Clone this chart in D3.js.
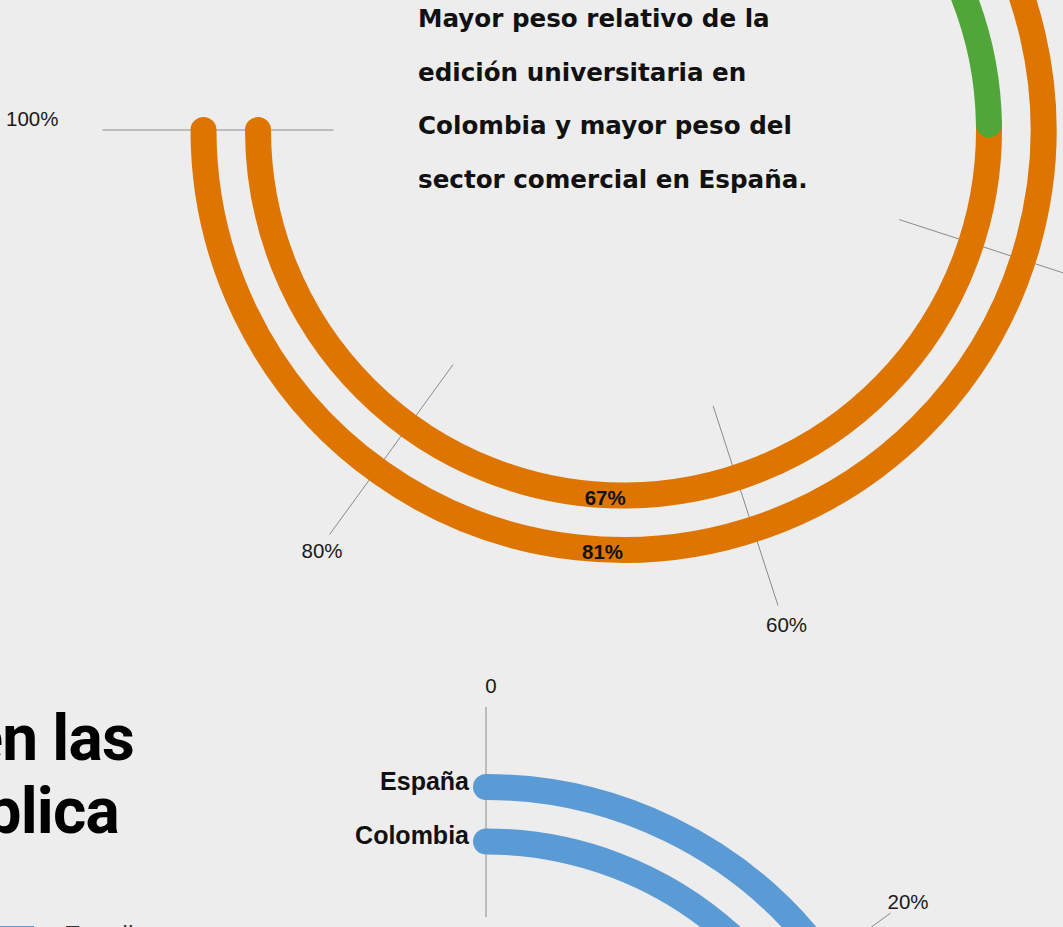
<!DOCTYPE html>
<html>
<head>
<meta charset="utf-8">
<script src="https://cdn.jsdelivr.net/npm/d3@7/dist/d3.min.js"></script>
<style>
  html, body { margin: 0; padding: 0; background: #ededed; overflow: hidden; }
  svg { display: block; }
</style>
</head>
<body>
<svg id="chart" width="1063" height="927"></svg>
<script>
// ---------------- DATA ----------------
const countries = ["Colombia", "España"];
const tickValues = [0, 20, 40, 60, 80, 100];
const tickLabels = ["0", "20%", "40%", "60%", "80%", "100%"];

// Top chart: peso de cada tipo de edición (stacked %)
const topSeries = ["Universitaria", "Comercial"];
const topColombia = [33, 67];
const topEspana = [19, 81];
const topLabelSeries = "Comercial";

// Bottom chart: first segment only visible
const bottomSeries = ["Estudios"];
const bottomColombia = [32];
const bottomEspana = [41];

const noteLines = [
  "Mayor peso relativo de la",
  "edición universitaria en",
  "Colombia y mayor peso del",
  "sector comercial en España."
];
const titleLines = ["en las", "pública"];
const legendLabels = ["Estudios"];

// ---------------- SETUP ----------------
const W = 1063, H = 927;
const svg = d3.select("#chart");
svg.append("rect").attr("width", W).attr("height", H).attr("fill", "#ededed");

const colors = {
  "Universitaria": "#50a638",
  "Comercial": "#dd7500",
  "Estudios": "#5b9bd5"
};

const angle = d3.scaleLinear().domain([0, 100]).range([0, 1.5 * Math.PI]);
const radius = d3.scalePoint().domain(countries).range([365.5, 420]);
const band = 26;
const tickR0 = 290, tickR1 = 500;

function polar(r, a) { return [r * Math.sin(a), -r * Math.cos(a)]; }

function arcPath(r, v0, v1) {
  const p = d3.path();
  const a0 = angle(v0) - Math.PI / 2, a1 = angle(v1) - Math.PI / 2;
  p.arc(0, 0, r, a0, a1, false);
  return p.toString();
}

function drawRadial(cx, cy, seriesNames, byCountry, opts) {
  const g = svg.append("g").attr("transform", `translate(${cx},${cy})`);

  // ticks
  const ticks = g.append("g");
  tickValues.forEach((v, i) => {
    const a = angle(v);
    const r1 = v === 100 ? 521 : tickR1;
    const p0 = polar(tickR0, a), p1 = polar(r1, a);
    ticks.append("line")
      .attr("x1", p0[0]).attr("y1", p0[1])
      .attr("x2", p1[0]).attr("y2", p1[1])
      .attr("stroke", "#8a8a8a").attr("stroke-width", 1);
    let lp = polar(518, a);
    let anchor = "middle", lx = lp[0] + 3, ly = lp[1] - 2 * Math.cos(a);
    if (v === 100) { anchor = "end"; lx = polar(565, a)[0]; ly = lp[1] - 12; }
    if (v === 0) { lx = lp[0] + 5; ly = lp[1] - 4; }
    ticks.append("text")
      .attr("x", lx).attr("y", ly)
      .attr("text-anchor", anchor)
      .attr("dominant-baseline", "central")
      .attr("font-family", "'Liberation Sans', Arial, sans-serif")
      .attr("font-size", 20.5)
      .attr("fill", "#1a1a1a")
      .text(tickLabels[i]);
  });

  // arcs
  countries.forEach(c => {
    const vals = byCountry[c];
    let acc = 0;
    const segs = vals.map((v, i) => { const s = { name: seriesNames[i], start: acc, end: acc + v }; acc += v; return s; });
    const r = radius(c);
    g.append("g").selectAll("path")
      .data(segs.slice().reverse())
      .join("path")
      .attr("d", d => arcPath(r, d.start, d.end))
      .attr("fill", "none")
      .attr("stroke", d => colors[d.name])
      .attr("stroke-width", band)
      .attr("stroke-linecap", "round");

    if (opts.valueLabel) {
      const seg = segs.find(s => s.name === opts.valueLabel);
      const a = Math.PI + 0.05;
      const p = polar(r, a);
      g.append("text")
        .attr("x", p[0]).attr("y", p[1] + 10)
        .attr("text-anchor", "middle")
        .attr("font-family", "'Liberation Sans', Arial, sans-serif")
        .attr("font-weight", "bold")
        .attr("font-size", 20.5)
        .attr("fill", "#111")
        .text(Math.round(seg.end - seg.start) + "%");
    }
    if (opts.countryLabels) {
      const p = polar(r, 0);
      g.append("text")
        .attr("x", p[0] - 17).attr("y", p[1] + 2.5)
        .attr("text-anchor", "end")
        .attr("font-family", "'Liberation Sans', Arial, sans-serif")
        .attr("font-weight", "bold")
        .attr("font-size", 25)
        .attr("fill", "#111")
        .text(c);
    }
  });
  return g;
}

// Top chart
drawRadial(623.5, 130, topSeries, { "Colombia": topColombia, "España": topEspana }, { valueLabel: topLabelSeries });

// Note text
const note = svg.append("text")
  .attr("font-family", "'DejaVu Sans', sans-serif")
  .attr("font-weight", "bold")
  .attr("font-size", 24.6)
  .attr("fill", "#111");
noteLines.forEach((t, i) => {
  note.append("tspan").attr("x", 418).attr("y", 27 + i * 53.5).text(t);
});

// Bottom chart
drawRadial(486, 1207, bottomSeries, { "Colombia": bottomColombia, "España": bottomEspana }, { countryLabels: true });

// Title fragment (cut at left edge)
const title = svg.append("text")
  .attr("font-family", "Roboto, 'Liberation Sans', Arial, sans-serif")
  .attr("font-weight", "bold")
  .attr("font-size", 64)
  .attr("letter-spacing", "-0.8px")
  .attr("text-anchor", "end")
  .attr("fill", "#000");
titleLines.forEach((t, i) => {
  title.append("tspan").attr("x", i === 0 ? 134 : 119).attr("y", 760 + i * 73).text(t);
});

// Legend fragment
const legend = svg.append("g");
legendLabels.forEach((l, i) => {
  legend.append("rect").attr("x", -20).attr("y", 926).attr("width", 54).attr("height", 20).attr("fill", colors["Estudios"]);
  legend.append("text").attr("x", 64).attr("y", 944)
    .attr("font-family", "'Liberation Sans', Arial, sans-serif")
    .attr("font-size", 25).attr("fill", "#333").text(l);
});
</script>
</body>
</html>
